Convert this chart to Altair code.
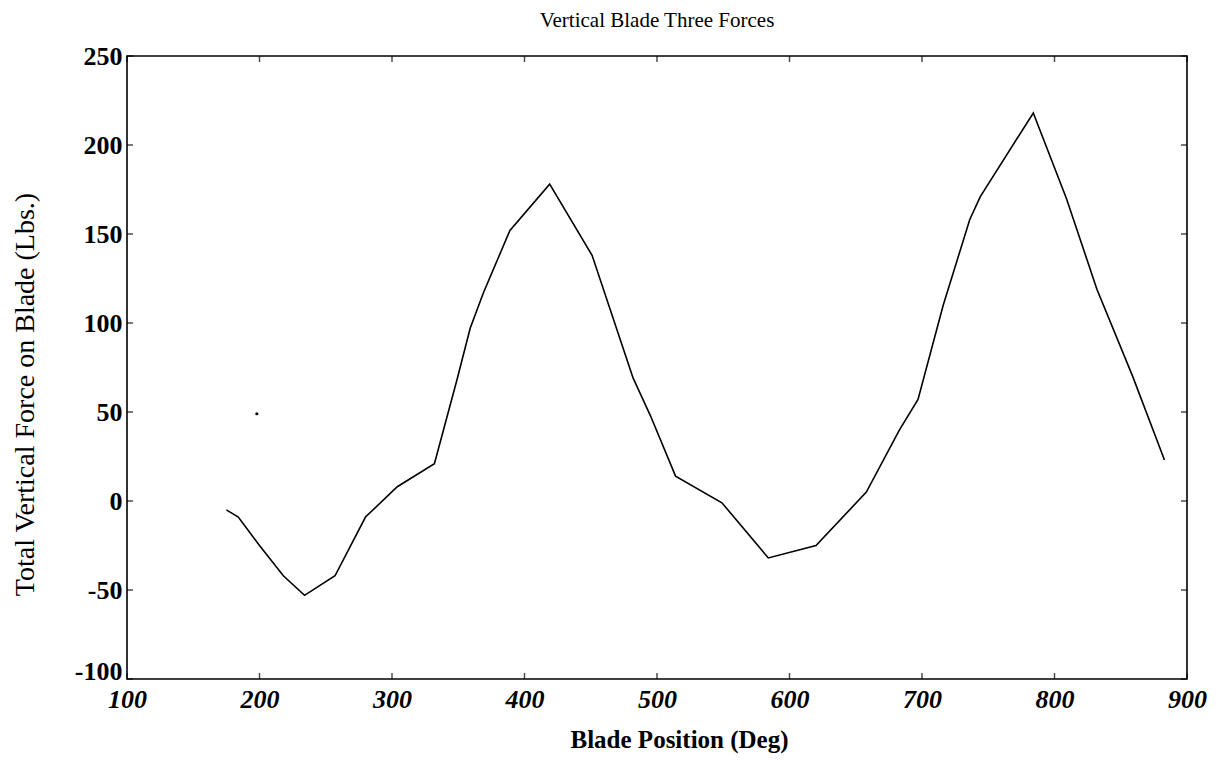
import altair as alt
import pandas as pd

# Blade position (deg) and total vertical force (lbs)
x_deg = [175, 184, 200, 218, 234, 257, 280, 304, 332, 349, 359, 369, 389, 419,
         451, 482, 495, 514, 549, 584, 620, 658, 683, 697, 716, 736, 744, 784,
         809, 832, 859, 883]
force = [-5, -9, -25, -42, -53, -42, -9, 8, 21, 68, 97, 117, 152, 178,
         138, 69, 48, 14, -1, -32, -25, 5, 40, 57, 110, 158, 171, 218,
         170, 119, 70, 23]

# isolated stray point
stray_x = [198]
stray_y = [49]

x_ticks = [100, 200, 300, 400, 500, 600, 700, 800, 900]
y_ticks = [-100, -50, 0, 50, 100, 150, 200, 250]

W, H = 1060, 623
FONT = "Liberation Serif"

df = pd.DataFrame({"deg": x_deg, "force": force})
dot = pd.DataFrame({"deg": stray_x, "force": stray_y})
xt = pd.DataFrame({"v": x_ticks})
yt = pd.DataFrame({"v": y_ticks})

xscale = alt.Scale(domain=[100, 900], nice=False, zero=False)
yscale = alt.Scale(domain=[-100, 250], nice=False, zero=False)

line = alt.Chart(df).mark_line(color="black", strokeWidth=1.6).encode(
    x=alt.X("deg:Q", scale=xscale,
            axis=alt.Axis(values=x_ticks, title="Blade Position (Deg)",
                          ticks=False, domain=False, grid=False,
                          labelExpr="'' + datum.value",
                          labelFont=FONT, labelFontSize=26, labelFontWeight="bold",
                          labelFontStyle="italic", labelColor="black",
                          labelPadding=7, labelOverlap=False, labelFlush=False,
                          titleFont=FONT, titleFontSize=25, titleFontWeight="bold",
                          titleColor="black", titleX=552, titleY=48,
                          titleBaseline="top")),
    y=alt.Y("force:Q", scale=yscale,
            axis=alt.Axis(values=y_ticks, title="Total Vertical Force on Blade (Lbs.)",
                          ticks=False, domain=False, grid=False,
                          labelExpr="'' + datum.value",
                          labelFont=FONT, labelFontSize=26, labelFontWeight="bold",
                          labelColor="black", labelPadding=5, labelOverlap=False,
                          labelFlush=False,
                          labelOffset={"condition": {"test": "datum.value == -100", "value": -8},
                                       "value": 0},
                          titleFont=FONT, titleFontSize=28, titleFontWeight="normal",
                          titleColor="black", titleX=-102, titleY=338,
                          titleBaseline="middle", titleAngle=270)),
)

stray = alt.Chart(dot).mark_point(filled=True, color="black", size=10, opacity=1).encode(
    x=alt.X("deg:Q", scale=xscale), y=alt.Y("force:Q", scale=yscale)
)

xb = alt.Chart(xt).mark_tick(color="black", thickness=1.5, size=6).encode(
    x=alt.X("v:Q", scale=xscale), y=alt.value(H - 3))
xtop = alt.Chart(xt).mark_tick(color="black", thickness=1.5, size=6).encode(
    x=alt.X("v:Q", scale=xscale), y=alt.value(3))
yl = alt.Chart(yt).mark_tick(color="black", thickness=1.5, size=6).encode(
    y=alt.Y("v:Q", scale=yscale), x=alt.value(3))
yr = alt.Chart(yt).mark_tick(color="black", thickness=1.5, size=6).encode(
    y=alt.Y("v:Q", scale=yscale), x=alt.value(W - 3))

chart = alt.layer(line, stray, xb, xtop, yl, yr).properties(
    width=W, height=H,
    title=alt.TitleParams("Vertical  Blade Three Forces", font=FONT, fontSize=21,
                          fontWeight="normal", color="black", offset=12),
    autosize=alt.AutoSizeParams(type="none"),
    padding={"left": 127, "top": 56, "right": 34, "bottom": 105},
    background="white",
).configure_view(stroke="black", strokeWidth=1.6)

chart.save("out.html", embed_options={"renderer": "svg", "actions": False})
